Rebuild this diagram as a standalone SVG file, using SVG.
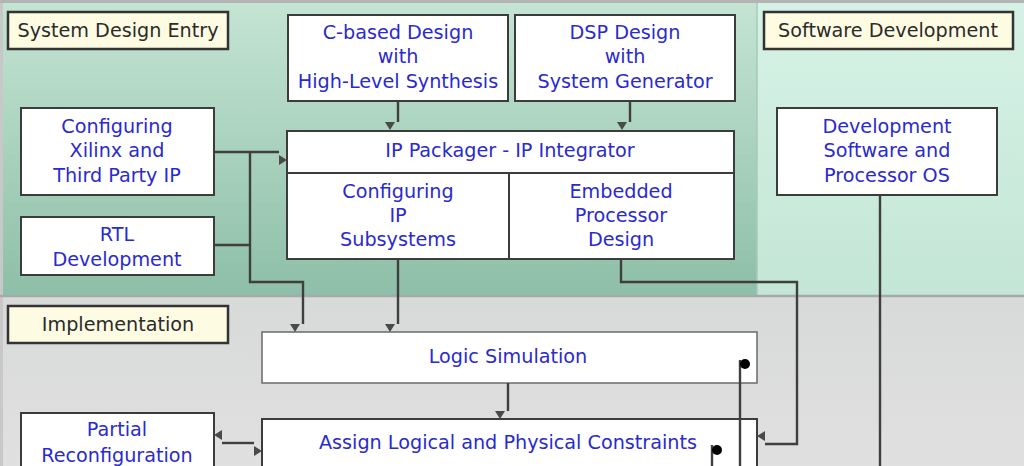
<svg xmlns="http://www.w3.org/2000/svg" width="1024" height="466" viewBox="0 0 1024 466">
<defs>
<linearGradient id="gSys" x1="0" y1="0" x2="0" y2="1">
<stop offset="0" stop-color="#c4e4d4"/>
<stop offset="1" stop-color="#8ebfa8"/>
</linearGradient>
<linearGradient id="gSw" x1="0" y1="0" x2="0" y2="1">
<stop offset="0" stop-color="#d6f2e6"/>
<stop offset="1" stop-color="#c4e6d6"/>
</linearGradient>
<linearGradient id="gImp" x1="0" y1="0" x2="0" y2="1">
<stop offset="0" stop-color="#d8d9d9"/>
<stop offset="1" stop-color="#e0e0e0"/>
</linearGradient>
<marker id="arr" markerUnits="userSpaceOnUse" markerWidth="20" markerHeight="20" refX="0" refY="0" orient="auto-start-reverse" overflow="visible">
<path d="M0,3 L8,8 L0,13 Z" fill="#4a4a4a"/>
</marker>
</defs>
<style>
.node{fill:#ffffff;stroke:#3c3c3c;stroke-width:2}
.node2{fill:#ffffff;stroke:#6a6a6a;stroke-width:1.5}
.lbl{fill:#fdfbe2;stroke:#333333;stroke-width:2.5}
.t{font-family:"DejaVu Sans","Verdana",sans-serif;font-size:19.2px;fill:#2a2ad0;text-anchor:middle}
.lt{font-family:"DejaVu Sans","Verdana",sans-serif;font-size:19.2px;fill:#2b2b2b;text-anchor:middle}
.wire{fill:none;stroke:#3f3f3f;stroke-width:2.4}
.dot{fill:#000000}
</style>

<g id="panels">
<rect x="0" y="0" width="1024" height="466" fill="#d8d8d8"/>
<rect x="0" y="3" width="757" height="292" fill="url(#gSys)"/>
<rect x="757" y="3" width="267" height="292" fill="url(#gSw)"/>
<rect x="0" y="297" width="1024" height="169" fill="url(#gImp)"/>
<line x1="0" y1="1.5" x2="1024" y2="1.5" stroke="#b4b4b4" stroke-width="3"/>
<line x1="1.5" y1="3" x2="1.5" y2="466" stroke="#c8c8c8" stroke-width="3"/>
<line x1="757" y1="3" x2="757" y2="295" stroke="#a9c9ba" stroke-width="1.5"/>
<line x1="0" y1="296" x2="1024" y2="296" stroke="#a6aaa8" stroke-width="2.5"/>
</g>

<g id="label-system-design-entry">
<rect class="lbl" x="8" y="12" width="220" height="37"/>
<text class="lt" x="118" y="37">System Design Entry</text>
</g>
<g id="label-software-development">
<rect class="lbl" x="764" y="12" width="249" height="37"/>
<text class="lt" x="888" y="37">Software Development</text>
</g>
<g id="label-implementation">
<rect class="lbl" x="8" y="306" width="220" height="37"/>
<text class="lt" x="118" y="331">Implementation</text>
</g>

<g id="node-c-based">
<rect class="node" x="288" y="15" width="220" height="86"/>
<text class="t" x="398" y="39">C-based Design</text>
<text class="t" x="398" y="63">with</text>
<text class="t" x="398" y="88">High-Level Synthesis</text>
</g>
<g id="node-dsp">
<rect class="node" x="515" y="15" width="220" height="86"/>
<text class="t" x="625" y="39">DSP Design</text>
<text class="t" x="625" y="63">with</text>
<text class="t" x="625" y="88">System Generator</text>
</g>
<g id="node-xilinx-ip">
<rect class="node" x="21" y="108" width="193" height="87"/>
<text class="t" x="117" y="133">Configuring</text>
<text class="t" x="117" y="157">Xilinx and</text>
<text class="t" x="117" y="182">Third Party IP</text>
</g>
<g id="node-rtl">
<rect class="node" x="21" y="217" width="193" height="58"/>
<text class="t" x="117" y="241">RTL</text>
<text class="t" x="117" y="266">Development</text>
</g>
<g id="node-ip-packager">
<rect class="node" x="287" y="131" width="447" height="128"/>
<line class="node" x1="287" y1="173" x2="734" y2="173"/>
<line class="node" x1="509" y1="173" x2="509" y2="259"/>
<text class="t" x="510" y="157">IP Packager - IP Integrator</text>
</g>
<g id="node-ip-subsystems">
<text class="t" x="398" y="198">Configuring</text>
<text class="t" x="398" y="222">IP</text>
<text class="t" x="398" y="246">Subsystems</text>
</g>
<g id="node-embedded">
<text class="t" x="621" y="198">Embedded</text>
<text class="t" x="621" y="222">Processor</text>
<text class="t" x="621" y="246">Design</text>
</g>
<g id="node-dev-software">
<rect class="node" x="777" y="108" width="220" height="87"/>
<text class="t" x="887" y="133">Development</text>
<text class="t" x="887" y="157">Software and</text>
<text class="t" x="887" y="182">Processor OS</text>
</g>
<g id="node-logic-sim">
<rect class="node2" x="262" y="332" width="495" height="51"/>
<text class="t" x="508" y="363">Logic Simulation</text>
</g>
<g id="node-assign">
<rect class="node" x="262" y="419" width="495" height="60"/>
<text class="t" x="508" y="449">Assign Logical and Physical Constraints</text>
</g>
<g id="node-partial">
<rect class="node" x="21" y="413" width="193" height="66"/>
<text class="t" x="117" y="436">Partial</text>
<text class="t" x="117" y="462">Reconfiguration</text>
</g>

<g id="connectors">
<path class="wire" d="M214,152 H279" marker-end="url(#arr)"/>
<path class="wire" d="M214,245 H250"/>
<path class="wire" d="M250,152 V282 H303 V324" marker-end="url(#arr)"/>
<path class="wire" d="M398,101 V122" marker-end="url(#arr)"/>
<path class="wire" d="M630,101 V122" marker-end="url(#arr)"/>
<path class="wire" d="M398,259 V324" marker-end="url(#arr)"/>
<path class="wire" d="M508,383 V411" marker-end="url(#arr)"/>
<path class="wire" d="M621,259 V282 H797 V444 H765" marker-end="url(#arr)"/>
<path class="wire" d="M222,443 H254" marker-start="url(#arr)" marker-end="url(#arr)"/>
<path class="wire" d="M880,195 V466"/>
<path class="wire" d="M740,360 V466"/>
<circle class="dot" cx="745" cy="364" r="5"/>
<path class="wire" d="M712,445 V466"/>
<circle class="dot" cx="717" cy="450" r="5"/>
</g>
</svg>
